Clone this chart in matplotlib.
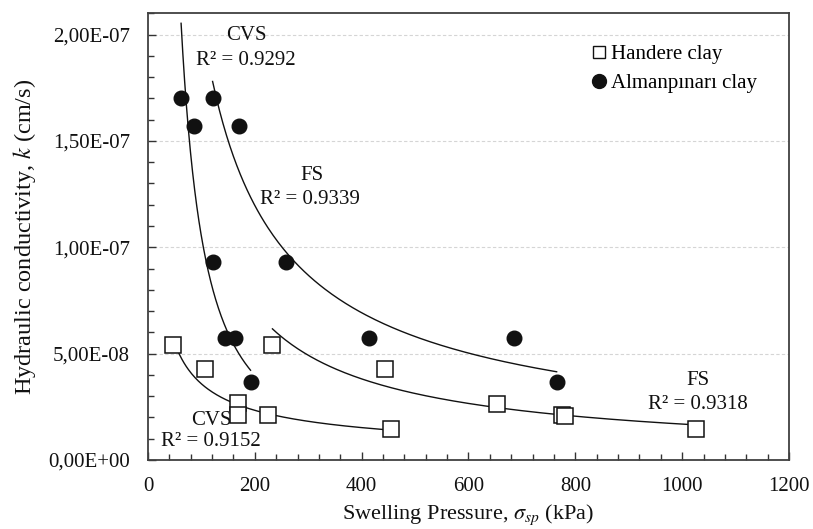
import numpy as np
import matplotlib
matplotlib.use("Agg")
import matplotlib.pyplot as plt
from matplotlib.ticker import MultipleLocator, FuncFormatter
from matplotlib.lines import Line2D

# ---- data (kPa, cm/s) ----
alm_cvs_x = [62, 87, 121, 144, 163, 192]
alm_cvs_y = [1.70e-7, 1.57e-7, 0.93e-7, 0.572e-7, 0.572e-7, 0.368e-7]
alm_fs_x = [121, 170, 258, 413, 685, 765]
alm_fs_y = [1.70e-7, 1.57e-7, 0.93e-7, 0.572e-7, 0.575e-7, 0.368e-7]
han_cvs_x = [47, 107, 169, 169, 224, 455]
han_cvs_y = [0.539e-7, 0.428e-7, 0.269e-7, 0.211e-7, 0.211e-7, 0.146e-7]
han_fs_x = [233, 444, 654, 775, 780, 1026]
han_fs_y = [0.539e-7, 0.428e-7, 0.263e-7, 0.211e-7, 0.208e-7, 0.146e-7]

labels = [("CVS", 185, 1.997e-7), ("R² = 0.9292", 184, 1.88e-7),
          ("FS", 307, 1.339e-7), ("R² = 0.9339", 304, 1.226e-7),
          ("CVS", 118, 0.188e-7), ("R² = 0.9152", 118, 0.085e-7),
          ("FS", 1029, 0.376e-7), ("R² = 0.9318", 1029, 0.263e-7)]

plt.rcParams['font.family'] = ['Liberation Serif', 'DejaVu Serif']
plt.rcParams['mathtext.fontset'] = 'stix'

fig = plt.figure(figsize=(8.13, 5.29), dpi=100)
ax = fig.add_axes([0.182, 0.1304, 0.7885, 0.8445])

def power_curve(x, y):
    x = np.asarray(x, float); y = np.asarray(y, float)
    b, lna = np.polyfit(np.log(x), np.log(y), 1)
    xs = np.linspace(x.min(), x.max(), 200)
    return xs, np.exp(lna) * xs ** b

for xs_, ys_ in [(alm_cvs_x, alm_cvs_y), (alm_fs_x, alm_fs_y),
                 (han_cvs_x, han_cvs_y), (han_fs_x, han_fs_y)]:
    cx, cy = power_curve(xs_, ys_)
    ax.plot(cx, cy, color='#111111', lw=1.0, zorder=2)

for xs_, ys_ in [(han_cvs_x, han_cvs_y), (han_fs_x, han_fs_y)]:
    ax.plot(xs_, ys_, linestyle='none', marker='s', markersize=11,
            markerfacecolor='white', markeredgecolor='#111111', markeredgewidth=1.1, zorder=3)
for xs_, ys_ in [(alm_cvs_x, alm_cvs_y), (alm_fs_x, alm_fs_y)]:
    ax.plot(xs_, ys_, linestyle='none', marker='o', markersize=10.5,
            markerfacecolor='#111111', markeredgecolor='#111111', zorder=4)

for t, x, y in labels:
    ax.text(x, y, t, ha='center', va='center', fontsize=15, color='#111111', zorder=5)

ax.set_xlim(0, 1200)
ax.set_ylim(0, 2.1e-7)
ax.xaxis.set_major_locator(MultipleLocator(200))
ax.xaxis.set_minor_locator(MultipleLocator(40))
ax.yaxis.set_major_locator(MultipleLocator(0.5e-7))
ax.yaxis.set_minor_locator(MultipleLocator(1e-8))
ax.yaxis.set_major_formatter(FuncFormatter(lambda v, p: f"{v:.2E}".replace('.', ',')))
ax.tick_params(which='both', direction='in', color='#333333', labelsize=15, labelcolor='#111111')
ax.tick_params(which='major', length=5.5, width=1.0)
ax.tick_params(which='minor', length=4.5, width=1.0)
ax.tick_params(axis='x', which='major', pad=12)
ax.tick_params(axis='y', which='major', pad=13)
ax.yaxis.grid(True, which='major', linestyle=(0, (3, 2)), color='#d5d5d5', lw=0.8)
ax.set_axisbelow(True)
for s in ax.spines.values():
    s.set_color('#404040'); s.set_linewidth(1.3)

ax.set_xlabel(r'Swelling Pressure, $\sigma_{sp}$ (kPa)', fontsize=16, color='#111111', labelpad=5)
ax.set_ylabel(r'Hydraulic conductivity, $k$ (cm/s)', fontsize=17.5, color='#111111', labelpad=7)

handles = [Line2D([], [], linestyle='none', marker='s', markersize=9, markerfacecolor='white',
                  markeredgecolor='#111111', markeredgewidth=1.0),
           Line2D([], [], linestyle='none', marker='o', markersize=10, markerfacecolor='#111111',
                  markeredgecolor='#111111')]
ax.legend(handles, ['Handere clay', 'Almanpınarı clay'], loc='upper left',
          bbox_to_anchor=(0.69, 0.93), frameon=False, fontsize=15, handlelength=0.8,
          handletextpad=0.2, labelspacing=0.45, borderpad=0, borderaxespad=0)

fig.savefig('out.png', dpi=100)
